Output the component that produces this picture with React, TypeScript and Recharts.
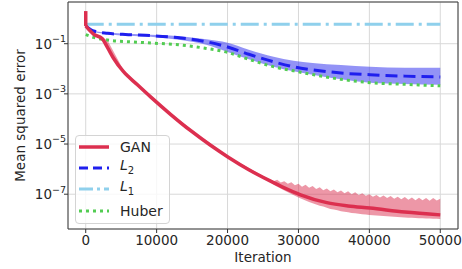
import React from "react";
import { ComposedChart, Line, Area, XAxis, YAxis, CartesianGrid, ReferenceArea } from "recharts";

const FONT = "'DejaVu Sans', sans-serif";
const TEXT = "#262626";

const X_TICKS = [0, 10000, 20000, 30000, 40000, 50000];
const Y_TICKS = [1e-1, 1e-3, 1e-5, 1e-7];
const X_DOMAIN: [number, number] = [-2500, 52500];
const Y_DOMAIN: [number, number] = [4.1e-9, 4.6];

// GAN: the initial jump at iteration 0, then the mean curve
const GAN_SPIKE_ITER = [0, 0];
const GAN_SPIKE_MSE = [2.0, 0.51];
const GAN_ITER = [0, 1100, 2300, 3100, 3900, 5300, 7300, 9150, 12000, 14800, 17600, 20100, 23000, 26000, 28000, 30300, 34000, 37000, 40100, 45000, 50000];
const GAN_MSE = [0.51, 0.24, 0.16, 0.068, 0.027, 7.8e-3, 2.3e-3, 7.6e-4, 1.5e-4, 3.4e-5, 8.9e-6, 3.0e-6, 9.5e-7, 3.4e-7, 1.8e-7, 9.5e-8, 4.6e-8, 3.4e-8, 2.8e-8, 1.95e-8, 1.5e-8];

// GAN spread (early part, then the noisy tail every 500 iterations)
const GAN_BAND_ITER = [0, 1100, 2300, 3100, 3900, 5300, 7300, 12000, 20100, 26000].concat(
  Array.from({ length: 48 }, (_, i) => 26500 + i * 500)
);
const GAN_BAND_LO = [
  0.5, 0.23, 0.15, 0.06, 0.024, 7.2e-3, 2.1e-3, 1.4e-4, 2.8e-6, 3.0e-7,
  2.4e-7, 2.0e-7, 1.7e-7, 1.41e-7, 1.2e-7, 1.02e-7, 8.7e-8, 7.4e-8, 6.5e-8, 5.6e-8,
  4.9e-8, 4.4e-8, 3.9e-8, 3.5e-8, 3.2e-8, 2.9e-8, 2.6e-8, 2.45e-8, 2.3e-8, 2.1e-8,
  2.0e-8, 1.9e-8, 1.8e-8, 1.74e-8, 1.66e-8, 1.58e-8, 1.55e-8, 1.48e-8,
  1.45e-8, 1.41e-8, 1.38e-8, 1.35e-8, 1.32e-8, 1.29e-8, 1.26e-8, 1.23e-8, 1.2e-8, 1.17e-8,
  1.15e-8, 1.15e-8, 1.12e-8, 1.1e-8, 1.1e-8, 1.07e-8, 1.07e-8, 1.05e-8, 1.05e-8, 1.02e-8,
];
const GAN_BAND_HI = [
  0.52, 0.25, 0.19, 0.13, 0.05, 9.2e-3, 2.6e-3, 1.65e-4, 3.2e-6, 3.8e-7,
  3.3e-7, 3.8e-7, 2.9e-7, 3.3e-7, 2.6e-7, 3.0e-7, 2.3e-7, 2.6e-7, 2.0e-7, 2.4e-7,
  1.8e-7, 2.1e-7, 1.6e-7, 1.9e-7, 1.45e-7, 1.7e-7, 1.3e-7, 1.55e-7, 1.2e-7, 1.4e-7,
  1.1e-7, 1.3e-7, 1.0e-7, 1.2e-7, 9.2e-8, 1.1e-7, 8.6e-8, 1.0e-7,
  8.0e-8, 9.4e-8, 7.4e-8, 8.9e-8, 7.0e-8, 8.5e-8, 6.6e-8, 8.0e-8, 6.3e-8, 7.7e-8,
  6.0e-8, 7.4e-8, 5.8e-8, 7.2e-8, 5.7e-8, 7.0e-8, 5.5e-8, 7.1e-8, 5.6e-8, 6.6e-8,
];

// L2 and Huber share the same sample points
const BASE_ITER = [0, 1100, 3100, 6000, 9150, 13400, 17000, 20000, 23000, 26500, 29300, 32000, 36000, 40100, 45000, 50000];
const L2_MSE = [0.51, 0.32, 0.26, 0.23, 0.21, 0.17, 0.12, 0.074, 0.038, 0.019, 0.012, 9.1e-3, 6.8e-3, 5.8e-3, 5.1e-3, 4.7e-3];
const L2_LO = [0.51, 0.3, 0.24, 0.21, 0.19, 0.14, 0.091, 0.047, 0.024, 0.012, 7.9e-3, 5.8e-3, 3.8e-3, 2.8e-3, 2.5e-3, 2.3e-3];
const L2_HI = [0.51, 0.33, 0.28, 0.25, 0.23, 0.2, 0.15, 0.11, 0.058, 0.03, 0.021, 0.017, 0.014, 0.012, 0.011, 0.011];
const HUBER_MSE = [0.23, 0.18, 0.14, 0.12, 0.107, 0.089, 0.065, 0.045, 0.024, 0.012, 8.3e-3, 5.9e-3, 3.8e-3, 2.8e-3, 2.4e-3, 2.1e-3];

const L1_ITER = [0, 50000];
const L1_MSE = [0.6, 0.6];

const COLORS = {
  gan: "#dc2f4f",
  l2: "#1f1fee",
  l1: "#8fd0ec",
  huber: "#52cc52",
};

type Row = { x: number; [k: string]: any };

const rows: Row[] = [
  ...GAN_SPIKE_ITER.map((x, i) => ({ x, ganSpike: GAN_SPIKE_MSE[i] })),
  ...GAN_ITER.map((x, i) => ({ x, gan: GAN_MSE[i] })),
  ...GAN_BAND_ITER.map((x, i) => ({ x, ganBand: [GAN_BAND_LO[i], GAN_BAND_HI[i]] })),
  ...BASE_ITER.map((x, i) => ({ x, l2: L2_MSE[i], l2Band: [L2_LO[i], L2_HI[i]], huber: HUBER_MSE[i] })),
  ...L1_ITER.map((x, i) => ({ x, l1: L1_MSE[i] })),
].sort((a, b) => a.x - b.x);

function XTick({ x, y, payload }: any) {
  return (
    <text x={x} y={y} dy="0.72em" textAnchor="middle" fontFamily={FONT} fontSize={13.5} fill={TEXT}>
      {payload.value}
    </text>
  );
}

function YTick({ x, y, payload }: any) {
  const exp = Math.round(Math.log10(payload.value));
  return (
    <text x={x + 2} y={y} dy={4.8} textAnchor="end" fontFamily={FONT} fontSize={13.5} fill={TEXT}>
      <tspan>10</tspan>
      <tspan dy={-6.5} fontSize={9.5}>{"\u2212" + Math.abs(exp)}</tspan>
    </text>
  );
}

function YTitle({ viewBox }: any) {
  const cx = viewBox.x + 20;
  const cy = viewBox.y + viewBox.height / 2;
  return (
    <text x={cx} y={cy} transform={`rotate(-90 ${cx} ${cy})`} textAnchor="middle" dominantBaseline="central" fontFamily={FONT} fontSize={13.5} fill={TEXT}>
      Mean squared error
    </text>
  );
}

function XTitle({ viewBox }: any) {
  return (
    <text x={viewBox.x + viewBox.width / 2} y={viewBox.y + 33} textAnchor="middle" fontFamily={FONT} fontSize={13.5} fill={TEXT}>
      Iteration
    </text>
  );
}

const LEGEND = [
  { key: "gan", label: <span>GAN</span>, dash: undefined, width: 3.5 },
  { key: "l2", label: <span><i>L</i><sub style={{ fontSize: 10 }}>2</sub></span>, dash: "9 5", width: 3 },
  { key: "l1", label: <span><i>L</i><sub style={{ fontSize: 10 }}>1</sub></span>, dash: "14 4 3 4", width: 3 },
  { key: "huber", label: <span>Huber</span>, dash: "3 4", width: 3 },
];

function LegendBox() {
  return (
    <div
      style={{
        position: "absolute",
        left: 75,
        top: 135,
        width: 95,
        height: 89,
        boxSizing: "border-box",
        border: "1px solid #d4d4d4",
        borderRadius: 4,
        background: "rgba(255,255,255,0.8)",
        fontFamily: FONT,
        fontSize: 14,
        color: TEXT,
      }}
    >
      {LEGEND.map((item) => (
        <div key={item.key} style={{ display: "flex", alignItems: "center", height: 21.3, lineHeight: "14px" }}>
          <svg width={30} height={10} style={{ marginLeft: 3, flexShrink: 0 }}>
            <line x1={0} y1={5} x2={30} y2={5} stroke={(COLORS as any)[item.key]} strokeWidth={item.width} strokeDasharray={item.dash} />
          </svg>
          <span style={{ marginLeft: 11 }}>{item.label}</span>
        </div>
      ))}
    </div>
  );
}

export default function App() {
  return (
    <div style={{ position: "absolute", left: 0, top: 0, width: 462, height: 269, background: "#fff" }}>
      <ComposedChart width={462} height={269} data={rows} margin={{ top: 2, right: 4, bottom: 0, left: 0 }}>
        <CartesianGrid stroke="#d8d8d8" strokeWidth={1} />
        <XAxis
          type="number"
          dataKey="x"
          domain={X_DOMAIN}
          ticks={X_TICKS}
          allowDataOverflow
          height={40}
          axisLine={false}
          tickLine={{ stroke: "#333" }}
          tickSize={4}
          tick={<XTick />}
          label={<XTitle />}
        />
        <YAxis
          type="number"
          scale="log"
          domain={Y_DOMAIN}
          ticks={Y_TICKS}
          allowDataOverflow
          width={68}
          axisLine={false}
          tickLine={{ stroke: "#333" }}
          tickSize={4}
          tickMargin={0}
          tick={<YTick />}
          label={<YTitle />}
        />
        <Area dataKey="l2Band" type="monotone" stroke="none" fill="#3a3aee" fillOpacity={0.55} connectNulls isAnimationActive={false} dot={false} activeDot={false} />
        <Area dataKey="ganBand" type="linear" stroke="none" fill={COLORS.gan} fillOpacity={0.5} connectNulls isAnimationActive={false} dot={false} activeDot={false} />
        <Line dataKey="l1" type="linear" stroke={COLORS.l1} strokeWidth={3} strokeDasharray="18 5 3 5" dot={false} activeDot={false} connectNulls isAnimationActive={false} />
        <Line dataKey="huber" type="monotone" stroke={COLORS.huber} strokeWidth={3} strokeDasharray="3 4" dot={false} activeDot={false} connectNulls isAnimationActive={false} />
        <Line dataKey="l2" type="monotone" stroke={COLORS.l2} strokeWidth={3} strokeDasharray="12 6" dot={false} activeDot={false} connectNulls isAnimationActive={false} />
        <Line dataKey="ganSpike" type="linear" stroke={COLORS.gan} strokeWidth={3.5} dot={false} activeDot={false} connectNulls isAnimationActive={false} />
        <Line dataKey="gan" type="monotone" stroke={COLORS.gan} strokeWidth={3.5} dot={false} activeDot={false} connectNulls isAnimationActive={false} />
        <ReferenceArea x1={X_DOMAIN[0]} x2={X_DOMAIN[1]} y1={Y_DOMAIN[0]} y2={Y_DOMAIN[1]} fill="none" stroke="#3a3a3a" strokeWidth={1} ifOverflow="visible" />
      </ComposedChart>
      <LegendBox />
    </div>
  );
}
